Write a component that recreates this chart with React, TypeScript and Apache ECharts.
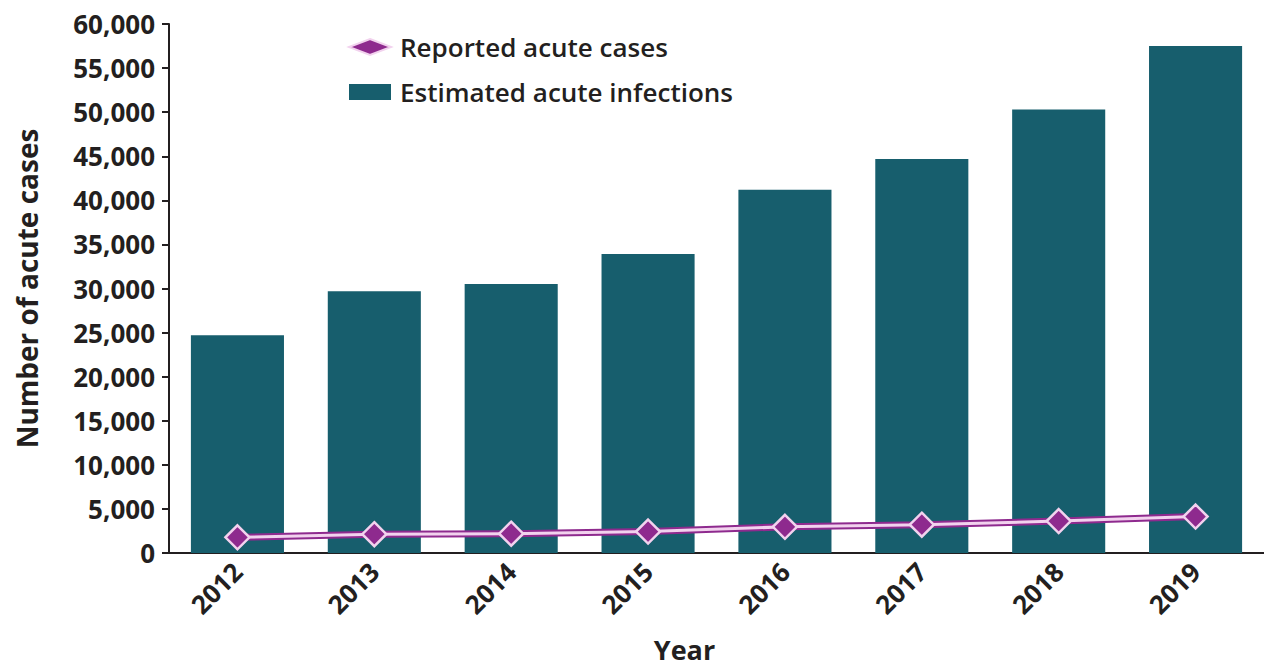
import React, { useEffect, useRef } from "react";
import * as echarts from "echarts";

const years = ["2012", "2013", "2014", "2015", "2016", "2017", "2018", "2019"];
const estimatedInfections = [24700, 29700, 30500, 33900, 41200, 44700, 50300, 57500];
const reportedCases = [1778, 2138, 2194, 2436, 2967, 3216, 3621, 4136];
const yTicks = { min: 0, max: 60000, interval: 5000 };

const FONT = "'Open Sans', 'Noto Sans', sans-serif";
const TEXT = "#231f20";
const TEAL = "#175e6d";
const PURPLE = "#8e2a8e";
const PINK = "#f2d2ee";

export default function App() {
  const ref = useRef<HTMLDivElement>(null);
  useEffect(() => {
    if (!ref.current) return;
    const chart = echarts.init(ref.current, null, { renderer: "svg" });
    chart.setOption({
      animation: false,
      backgroundColor: "#ffffff",
      textStyle: { fontFamily: FONT },
      grid: { left: 169, right: 0, top: 24, bottom: 119, containLabel: false, outerBoundsMode: "none" },
      legend: {
        orient: "vertical",
        left: 343,
        top: 28,
        itemWidth: 42,
        itemHeight: 16,
        itemGap: 17,
        textStyle: {
          fontFamily: FONT,
          fontSize: 26,
          fontWeight: 600,
          color: TEXT,
          lineHeight: 28,
          padding: [0, 0, 0, 4],
        },
        data: [
          {
            name: "Reported acute cases",
            icon: "diamond",
            itemStyle: { color: PURPLE, borderColor: PINK, borderWidth: 2 },
            lineStyle: { color: PURPLE, width: 5 },
          },
          { name: "Estimated acute infections", icon: "rect", itemStyle: { color: TEAL } },
        ],
      },
      xAxis: {
        type: "category",
        data: years,
        name: "Year",
        nameLocation: "middle",
        nameGap: 83,
        nameTextStyle: {
          fontFamily: FONT,
          fontSize: 27,
          fontWeight: 700,
          color: TEXT,
          lineHeight: 27,
          padding: [0, 64, 0, 0],
        },
        axisLine: { lineStyle: { color: TEXT, width: 2 } },
        axisTick: { alignWithLabel: true, length: 8, lineStyle: { color: TEXT, width: 2 } },
        axisLabel: { rotate: 45, margin: 14, fontFamily: FONT, fontSize: 26, fontWeight: 700, color: TEXT },
      },
      yAxis: {
        type: "value",
        min: yTicks.min,
        max: yTicks.max,
        interval: yTicks.interval,
        name: "Number of acute cases",
        nameLocation: "middle",
        nameGap: 128,
        nameTextStyle: { fontFamily: FONT, fontSize: 28, fontWeight: 700, color: TEXT },
        axisLine: { show: true, lineStyle: { color: TEXT, width: 2 } },
        axisTick: { show: true, length: 7, lineStyle: { color: TEXT, width: 2 } },
        splitLine: { show: false },
        axisLabel: {
          margin: 14,
          fontFamily: FONT,
          fontSize: 26,
          fontWeight: 700,
          color: TEXT,
          formatter: (v: number) => v.toLocaleString("en-US"),
        },
      },
      series: [
        {
          name: "Estimated acute infections",
          type: "bar",
          data: estimatedInfections,
          barWidth: "68%",
          itemStyle: { color: TEAL },
          z: 1,
        },
        {
          name: "Reported outline",
          type: "line",
          data: reportedCases,
          showSymbol: false,
          symbol: "none",
          lineStyle: { color: PURPLE, width: 7 },
          z: 3,
          silent: true,
        },
        {
          name: "Reported acute cases",
          type: "line",
          data: reportedCases,
          symbol: "diamond",
          symbolSize: 24,
          lineStyle: { color: PINK, width: 3 },
          itemStyle: { color: PURPLE, borderColor: PINK, borderWidth: 2.5 },
          z: 4,
        },
      ],
    });
    return () => chart.dispose();
  }, []);
  return (
    <div
      ref={ref}
      style={{ position: "fixed", left: 0, top: 0, width: 1264, height: 672 }}
    />
  );
}
